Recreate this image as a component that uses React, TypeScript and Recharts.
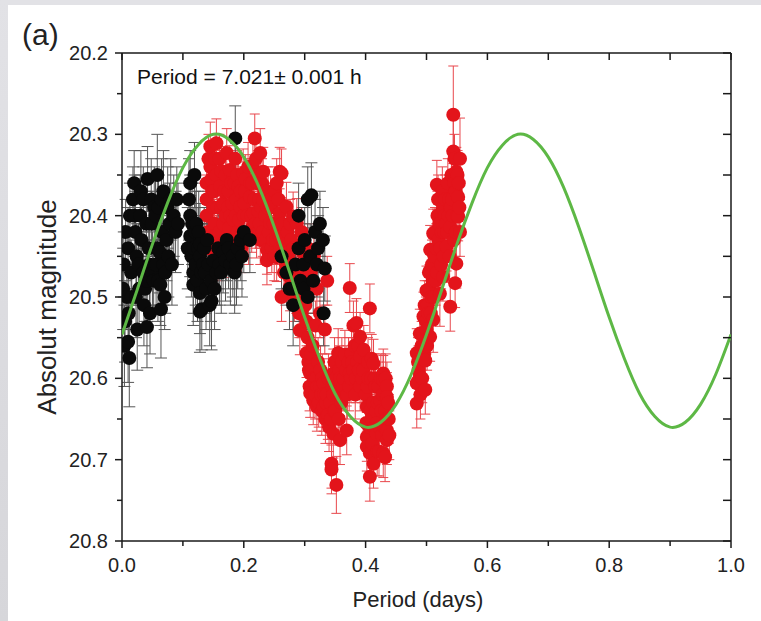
import React from 'react';
import { ComposedChart, Scatter, XAxis, YAxis, ErrorBar } from 'recharts';

type P = [number, number, number];

// [phase (days), magnitude, error]
const blackPoints: P[] = [
  [0.002, 20.49, 0.05], [0.003, 20.46, 0.04], [0.004, 20.56, 0.05], [0.005, 20.53, 0.05], [0.006, 20.42, 0.04],
  [0.008, 20.5, 0.04], [0.01, 20.44, 0.05], [0.01, 20.555, 0.05], [0.011, 20.52, 0.05], [0.012, 20.575, 0.06],
  [0.013, 20.4, 0.04], [0.015, 20.47, 0.04], [0.016, 20.5, 0.04], [0.018, 20.38, 0.04], [0.02, 20.36, 0.04],
  [0.021, 20.4, 0.05], [0.022, 20.42, 0.05], [0.023, 20.5, 0.05], [0.024, 20.45, 0.04], [0.025, 20.54, 0.05],
  [0.027, 20.46, 0.05], [0.028, 20.49, 0.05], [0.03, 20.4, 0.05], [0.031, 20.37, 0.05], [0.032, 20.43, 0.04],
  [0.035, 20.38, 0.04], [0.035, 20.47, 0.04], [0.036, 20.51, 0.05], [0.038, 20.49, 0.04], [0.04, 20.41, 0.04],
  [0.041, 20.48, 0.05], [0.041, 20.537, 0.05], [0.042, 20.355, 0.04], [0.044, 20.44, 0.05], [0.045, 20.46, 0.05],
  [0.046, 20.52, 0.05], [0.048, 20.38, 0.05], [0.049, 20.41, 0.04], [0.05, 20.47, 0.05], [0.052, 20.48, 0.04],
  [0.053, 20.39, 0.05], [0.055, 20.4, 0.05], [0.056, 20.46, 0.05], [0.058, 20.35, 0.05], [0.058, 20.44, 0.04],
  [0.059, 20.48, 0.05], [0.06, 20.39, 0.04], [0.062, 20.445, 0.05], [0.063, 20.485, 0.05], [0.064, 20.515, 0.06],
  [0.065, 20.38, 0.05], [0.066, 20.42, 0.04], [0.068, 20.37, 0.05], [0.068, 20.46, 0.05], [0.07, 20.5, 0.04],
  [0.071, 20.47, 0.05], [0.073, 20.43, 0.05], [0.075, 20.39, 0.05], [0.076, 20.45, 0.05], [0.078, 20.41, 0.05],
  [0.08, 20.38, 0.05], [0.082, 20.46, 0.05], [0.085, 20.4, 0.05], [0.088, 20.42, 0.05], [0.09, 20.38, 0.04],
  [0.092, 20.41, 0.05],
  [0.108, 20.44, 0.05], [0.11, 20.38, 0.05], [0.112, 20.36, 0.04], [0.112, 20.4, 0.05], [0.112, 20.425, 0.05],
  [0.114, 20.45, 0.05], [0.115, 20.41, 0.05], [0.117, 20.47, 0.05], [0.117, 20.485, 0.05], [0.118, 20.44, 0.05],
  [0.119, 20.35, 0.04], [0.12, 20.42, 0.05], [0.121, 20.46, 0.05], [0.122, 20.41, 0.05], [0.124, 20.48, 0.05],
  [0.125, 20.44, 0.05], [0.126, 20.42, 0.05], [0.128, 20.435, 0.05], [0.128, 20.45, 0.05], [0.128, 20.495, 0.05],
  [0.128, 20.518, 0.05], [0.13, 20.47, 0.05], [0.131, 20.515, 0.05], [0.133, 20.46, 0.05], [0.135, 20.44, 0.05],
  [0.136, 20.47, 0.05], [0.138, 20.49, 0.05], [0.14, 20.43, 0.05], [0.142, 20.46, 0.05], [0.144, 20.51, 0.05],
  [0.146, 20.48, 0.05], [0.147, 20.505, 0.06], [0.15, 20.455, 0.05], [0.152, 20.49, 0.05], [0.155, 20.47, 0.04],
  [0.158, 20.44, 0.05], [0.16, 20.46, 0.05], [0.163, 20.47, 0.05], [0.166, 20.445, 0.05], [0.17, 20.455, 0.05],
  [0.172, 20.43, 0.05], [0.175, 20.44, 0.05], [0.178, 20.46, 0.05], [0.182, 20.45, 0.05], [0.185, 20.47, 0.05],
  [0.186, 20.305, 0.04], [0.188, 20.46, 0.05], [0.19, 20.44, 0.05], [0.195, 20.43, 0.05], [0.197, 20.45, 0.05],
  [0.2, 20.42, 0.05], [0.21, 20.43, 0.04],
  [0.262, 20.45, 0.04], [0.27, 20.47, 0.04], [0.275, 20.49, 0.05], [0.281, 20.49, 0.05], [0.281, 20.51, 0.05],
  [0.285, 20.46, 0.04], [0.29, 20.4, 0.04], [0.29, 20.44, 0.04], [0.293, 20.48, 0.05], [0.298, 20.46, 0.04],
  [0.298, 20.49, 0.04], [0.3, 20.43, 0.04], [0.305, 20.38, 0.04], [0.305, 20.5, 0.04], [0.309, 20.45, 0.04],
  [0.311, 20.375, 0.04], [0.314, 20.48, 0.04], [0.317, 20.42, 0.04], [0.32, 20.46, 0.04], [0.322, 20.44, 0.04],
  [0.325, 20.41, 0.04], [0.33, 20.43, 0.04], [0.331, 20.52, 0.04], [0.333, 20.465, 0.04],
];

const redPoints: P[] = [
  [0.139, 20.36, 0.03], [0.139, 20.38, 0.03], [0.139, 20.4, 0.03], [0.141, 20.42, 0.03], [0.142, 20.33, 0.03],
  [0.143, 20.44, 0.03], [0.145, 20.315, 0.03], [0.145, 20.34, 0.03], [0.147, 20.355, 0.03], [0.148, 20.37, 0.03],
  [0.15, 20.39, 0.03], [0.151, 20.37, 0.03], [0.152, 20.41, 0.03], [0.153, 20.33, 0.03], [0.155, 20.311, 0.03],
  [0.155, 20.35, 0.03], [0.155, 20.43, 0.03], [0.157, 20.39, 0.03], [0.158, 20.45, 0.03], [0.16, 20.33, 0.03],
  [0.16, 20.42, 0.03], [0.161, 20.364, 0.03], [0.163, 20.39, 0.03], [0.163, 20.345, 0.03], [0.165, 20.435, 0.03],
  [0.166, 20.385, 0.03], [0.166, 20.41, 0.03], [0.168, 20.446, 0.03], [0.168, 20.37, 0.03], [0.17, 20.35, 0.03],
  [0.17, 20.4, 0.03], [0.172, 20.323, 0.03], [0.172, 20.426, 0.03], [0.174, 20.39, 0.03], [0.175, 20.37, 0.03],
  [0.176, 20.415, 0.03], [0.177, 20.344, 0.03], [0.178, 20.4, 0.03], [0.179, 20.36, 0.03], [0.18, 20.43, 0.03],
  [0.181, 20.385, 0.03], [0.183, 20.405, 0.03], [0.184, 20.44, 0.03], [0.185, 20.36, 0.03], [0.186, 20.33, 0.03],
  [0.187, 20.4, 0.03], [0.188, 20.38, 0.03], [0.189, 20.35, 0.03], [0.19, 20.42, 0.03], [0.191, 20.364, 0.03],
  [0.192, 20.405, 0.03], [0.194, 20.389, 0.03], [0.195, 20.37, 0.03], [0.196, 20.44, 0.03], [0.197, 20.42, 0.03],
  [0.199, 20.348, 0.03], [0.2, 20.4, 0.03], [0.201, 20.385, 0.03], [0.202, 20.37, 0.03], [0.203, 20.355, 0.03],
  [0.205, 20.422, 0.03], [0.206, 20.4, 0.03], [0.207, 20.34, 0.03], [0.208, 20.43, 0.03], [0.21, 20.377, 0.03],
  [0.211, 20.36, 0.03], [0.212, 20.4, 0.03], [0.213, 20.415, 0.03], [0.214, 20.36, 0.03], [0.215, 20.34, 0.03],
  [0.216, 20.397, 0.03], [0.217, 20.38, 0.03], [0.218, 20.305, 0.03], [0.219, 20.41, 0.03], [0.22, 20.33, 0.03],
  [0.221, 20.422, 0.03], [0.222, 20.36, 0.03], [0.223, 20.35, 0.03], [0.224, 20.395, 0.03], [0.225, 20.38, 0.03],
  [0.226, 20.41, 0.03], [0.227, 20.323, 0.03], [0.227, 20.43, 0.03], [0.229, 20.39, 0.03], [0.23, 20.36, 0.03],
  [0.231, 20.42, 0.03], [0.232, 20.346, 0.03], [0.232, 20.381, 0.03], [0.234, 20.37, 0.03], [0.235, 20.4, 0.03],
  [0.236, 20.43, 0.03], [0.238, 20.442, 0.03], [0.238, 20.455, 0.03], [0.239, 20.39, 0.03], [0.24, 20.37, 0.03],
  [0.241, 20.42, 0.03], [0.243, 20.409, 0.03], [0.244, 20.38, 0.03], [0.245, 20.39, 0.03], [0.246, 20.44, 0.03],
  [0.248, 20.43, 0.03], [0.249, 20.41, 0.03], [0.25, 20.45, 0.03], [0.251, 20.37, 0.03], [0.253, 20.43, 0.03],
  [0.254, 20.36, 0.03], [0.254, 20.451, 0.03], [0.256, 20.42, 0.03], [0.257, 20.38, 0.03], [0.259, 20.346, 0.03],
  [0.259, 20.397, 0.03], [0.259, 20.426, 0.03], [0.26, 20.44, 0.03], [0.262, 20.348, 0.03], [0.262, 20.5, 0.03],
  [0.263, 20.41, 0.03], [0.264, 20.44, 0.03], [0.266, 20.47, 0.03], [0.267, 20.43, 0.03], [0.269, 20.46, 0.03],
  [0.27, 20.389, 0.03], [0.27, 20.446, 0.03], [0.272, 20.42, 0.03], [0.273, 20.45, 0.03], [0.275, 20.475, 0.03],
  [0.276, 20.487, 0.03], [0.276, 20.41, 0.03], [0.278, 20.43, 0.03], [0.279, 20.46, 0.03], [0.281, 20.401, 0.03],
  [0.282, 20.44, 0.03], [0.283, 20.5, 0.03], [0.285, 20.46, 0.03], [0.286, 20.49, 0.03], [0.287, 20.409, 0.03],
  [0.287, 20.471, 0.03], [0.289, 20.47, 0.03], [0.29, 20.44, 0.03], [0.291, 20.52, 0.03], [0.292, 20.495, 0.03],
  [0.292, 20.541, 0.03], [0.294, 20.48, 0.03], [0.295, 20.42, 0.03], [0.295, 20.52, 0.03], [0.297, 20.5, 0.03],
  [0.298, 20.446, 0.03], [0.298, 20.512, 0.03], [0.3, 20.48, 0.03], [0.301, 20.51, 0.03], [0.303, 20.53, 0.03],
  [0.303, 20.569, 0.03], [0.304, 20.49, 0.03], [0.305, 20.44, 0.03], [0.305, 20.55, 0.03], [0.306, 20.58, 0.03],
  [0.307, 20.59, 0.03], [0.308, 20.61, 0.03], [0.309, 20.594, 0.03], [0.309, 20.618, 0.03], [0.31, 20.47, 0.03],
  [0.311, 20.57, 0.03], [0.312, 20.59, 0.03], [0.313, 20.56, 0.03], [0.314, 20.627, 0.03], [0.315, 20.45, 0.03],
  [0.316, 20.6, 0.03], [0.317, 20.62, 0.03], [0.318, 20.535, 0.03], [0.319, 20.6, 0.03], [0.32, 20.49, 0.03],
  [0.32, 20.635, 0.03], [0.321, 20.61, 0.03], [0.322, 20.58, 0.03], [0.323, 20.63, 0.03], [0.325, 20.52, 0.03],
  [0.325, 20.61, 0.03], [0.326, 20.59, 0.03], [0.327, 20.62, 0.03], [0.328, 20.64, 0.03], [0.329, 20.6, 0.03],
  [0.331, 20.606, 0.03], [0.331, 20.635, 0.03], [0.332, 20.62, 0.03], [0.333, 20.54, 0.03], [0.334, 20.65, 0.03],
  [0.335, 20.63, 0.03], [0.336, 20.62, 0.03], [0.337, 20.48, 0.03], [0.338, 20.645, 0.03], [0.339, 20.6, 0.03],
  [0.34, 20.66, 0.03], [0.342, 20.63, 0.03], [0.343, 20.65, 0.03], [0.344, 20.705, 0.03], [0.344, 20.712, 0.03],
  [0.345, 20.61, 0.03], [0.347, 20.594, 0.03], [0.347, 20.62, 0.03], [0.347, 20.668, 0.03], [0.348, 20.64, 0.03],
  [0.349, 20.58, 0.03], [0.35, 20.64, 0.03], [0.351, 20.6, 0.03], [0.352, 20.731, 0.035], [0.353, 20.62, 0.03],
  [0.355, 20.569, 0.03], [0.356, 20.65, 0.03], [0.357, 20.59, 0.03], [0.358, 20.6, 0.03], [0.358, 20.676, 0.03],
  [0.359, 20.62, 0.03], [0.36, 20.63, 0.03], [0.361, 20.58, 0.03], [0.363, 20.61, 0.03], [0.364, 20.6, 0.03],
  [0.366, 20.571, 0.03], [0.368, 20.59, 0.03], [0.369, 20.664, 0.03], [0.37, 20.62, 0.03], [0.372, 20.58, 0.03],
  [0.373, 20.61, 0.03], [0.374, 20.489, 0.03], [0.374, 20.594, 0.03], [0.376, 20.6, 0.03], [0.377, 20.569, 0.03],
  [0.378, 20.58, 0.03], [0.38, 20.535, 0.03], [0.38, 20.59, 0.03], [0.382, 20.56, 0.03], [0.383, 20.62, 0.03],
  [0.384, 20.6, 0.03], [0.385, 20.532, 0.03], [0.386, 20.58, 0.03], [0.388, 20.56, 0.03], [0.389, 20.59, 0.03],
  [0.391, 20.549, 0.03], [0.391, 20.573, 0.03], [0.391, 20.61, 0.03], [0.394, 20.6, 0.03], [0.396, 20.59, 0.03],
  [0.397, 20.565, 0.03], [0.4, 20.62, 0.03], [0.401, 20.655, 0.03], [0.402, 20.635, 0.03], [0.402, 20.672, 0.03],
  [0.402, 20.684, 0.03], [0.403, 20.61, 0.03], [0.404, 20.58, 0.03], [0.405, 20.6, 0.03], [0.406, 20.66, 0.03],
  [0.407, 20.514, 0.03], [0.407, 20.692, 0.03], [0.407, 20.721, 0.03], [0.408, 20.64, 0.03], [0.409, 20.6, 0.03],
  [0.41, 20.576, 0.03], [0.41, 20.65, 0.03], [0.411, 20.68, 0.03], [0.412, 20.63, 0.03], [0.413, 20.582, 0.03],
  [0.413, 20.705, 0.03], [0.414, 20.66, 0.03], [0.415, 20.6, 0.03], [0.416, 20.61, 0.03], [0.417, 20.64, 0.03],
  [0.418, 20.655, 0.03], [0.418, 20.668, 0.03], [0.419, 20.69, 0.03], [0.42, 20.63, 0.03], [0.421, 20.61, 0.03],
  [0.422, 20.69, 0.03], [0.423, 20.66, 0.03], [0.424, 20.627, 0.03], [0.425, 20.6, 0.03], [0.426, 20.64, 0.03],
  [0.427, 20.67, 0.03], [0.428, 20.62, 0.03], [0.429, 20.594, 0.03], [0.429, 20.602, 0.03], [0.429, 20.692, 0.03],
  [0.431, 20.66, 0.03], [0.432, 20.697, 0.03], [0.432, 20.64, 0.03], [0.433, 20.6, 0.03], [0.434, 20.65, 0.03],
  [0.435, 20.61, 0.03], [0.435, 20.623, 0.03], [0.435, 20.664, 0.03], [0.435, 20.676, 0.03], [0.437, 20.63, 0.03],
  [0.438, 20.65, 0.03], [0.439, 20.67, 0.03],
  [0.484, 20.569, 0.03], [0.484, 20.606, 0.03], [0.484, 20.631, 0.03], [0.486, 20.58, 0.03], [0.487, 20.59, 0.03],
  [0.489, 20.545, 0.03], [0.489, 20.598, 0.03], [0.49, 20.62, 0.03], [0.492, 20.56, 0.03], [0.493, 20.6, 0.03],
  [0.494, 20.545, 0.03], [0.495, 20.524, 0.03], [0.496, 20.57, 0.03], [0.497, 20.51, 0.03], [0.498, 20.578, 0.03],
  [0.498, 20.614, 0.03], [0.499, 20.53, 0.03], [0.5, 20.492, 0.03], [0.5, 20.54, 0.03], [0.501, 20.56, 0.03],
  [0.502, 20.51, 0.03], [0.503, 20.52, 0.03], [0.504, 20.47, 0.03], [0.505, 20.49, 0.03], [0.506, 20.442, 0.03],
  [0.506, 20.467, 0.03], [0.506, 20.549, 0.03], [0.507, 20.52, 0.03], [0.508, 20.5, 0.03], [0.509, 20.46, 0.03],
  [0.51, 20.48, 0.03], [0.511, 20.422, 0.03], [0.511, 20.528, 0.04], [0.512, 20.5, 0.03], [0.513, 20.45, 0.03],
  [0.514, 20.42, 0.03], [0.515, 20.48, 0.03], [0.516, 20.44, 0.03], [0.517, 20.362, 0.03], [0.517, 20.47, 0.03],
  [0.518, 20.4, 0.03], [0.519, 20.38, 0.03], [0.52, 20.43, 0.03], [0.521, 20.41, 0.03], [0.522, 20.496, 0.04],
  [0.523, 20.44, 0.03], [0.524, 20.46, 0.03], [0.525, 20.42, 0.03], [0.526, 20.37, 0.03], [0.527, 20.391, 0.03],
  [0.527, 20.475, 0.03], [0.528, 20.45, 0.03], [0.529, 20.42, 0.03], [0.53, 20.4, 0.03], [0.531, 20.38, 0.03],
  [0.532, 20.41, 0.03], [0.533, 20.438, 0.03], [0.534, 20.42, 0.03], [0.535, 20.36, 0.03], [0.536, 20.4, 0.03],
  [0.537, 20.38, 0.03], [0.538, 20.45, 0.03], [0.539, 20.414, 0.03], [0.539, 20.512, 0.03], [0.54, 20.39, 0.03],
  [0.541, 20.35, 0.03], [0.542, 20.38, 0.03], [0.543, 20.4, 0.03], [0.544, 20.276, 0.06], [0.544, 20.321, 0.04],
  [0.545, 20.43, 0.03], [0.546, 20.33, 0.03], [0.546, 20.36, 0.03], [0.547, 20.483, 0.03], [0.548, 20.37, 0.03],
  [0.548, 20.42, 0.03], [0.549, 20.346, 0.03], [0.549, 20.459, 0.03], [0.55, 20.4, 0.03], [0.551, 20.35, 0.03],
  [0.552, 20.377, 0.03], [0.552, 20.401, 0.03], [0.553, 20.36, 0.03], [0.554, 20.39, 0.03], [0.555, 20.33, 0.05],
  [0.555, 20.42, 0.03],
];

const curveX = [
  0, 0.025, 0.05, 0.075, 0.1, 0.125, 0.15, 0.175, 0.2, 0.225, 0.25, 0.275, 0.3, 0.325, 0.35, 0.375, 0.4, 0.425,
  0.45, 0.475, 0.5, 0.525, 0.55, 0.575, 0.6, 0.625, 0.65, 0.675, 0.7, 0.725, 0.75, 0.775, 0.8, 0.825, 0.85, 0.875,
  0.9, 0.925, 0.95, 0.975, 1.0,
];
const curveY = [
  20.546, 20.491, 20.435, 20.384, 20.341, 20.313, 20.3, 20.306, 20.328, 20.365, 20.414, 20.469, 20.525, 20.576,
  20.619, 20.647, 20.66, 20.654, 20.632, 20.595, 20.546, 20.491, 20.435, 20.384, 20.341, 20.313, 20.3, 20.306,
  20.328, 20.365, 20.414, 20.469, 20.525, 20.576, 20.619, 20.647, 20.66, 20.654, 20.632, 20.595, 20.546,
];

const xTicks = [0, 0.1, 0.2, 0.3, 0.4, 0.5, 0.6, 0.7, 0.8, 0.9, 1.0];
const xLabels = ['0.0', '', '0.2', '', '0.4', '', '0.6', '', '0.8', '', '1.0'];
const yTicks = [20.2, 20.25, 20.3, 20.35, 20.4, 20.45, 20.5, 20.55, 20.6, 20.65, 20.7, 20.75, 20.8];
const yLabels = ['20.2', '', '20.3', '', '20.4', '', '20.5', '', '20.6', '', '20.7', '', '20.8'];

const xTitle = 'Period (days)';
const yTitle = 'Absolut magnitude';
const panelTag = '(a)';
const note = 'Period = 7.021\u00b1 0.001 h';

const FONT = '"Liberation Sans", Arial, sans-serif';
const AXIS = '#1a1a1a';

const rows = (pts: P[]) => pts.map(([x, y, e]) => ({ x, y, e }));
const blackData = rows(blackPoints);
const redData = rows(redPoints);
const curveData = curveX.map((x, i) => ({ x, y: curveY[i] }));

const BottomTick = (props: any) => {
  const { x, y, index } = props;
  const label = xLabels[index];
  const major = label !== '';
  return (
    <g>
      <line x1={x} x2={x} y1={y} y2={y + (major ? 7 : 5)} stroke={AXIS} strokeWidth={1.5} />
      {major && (
        <text x={x} y={y + 31} textAnchor="middle" fontSize={20} fontFamily={FONT} fill="#222">
          {label}
        </text>
      )}
    </g>
  );
};

const TopTick = (props: any) => {
  const { x, y } = props;
  return <line x1={x} x2={x} y1={y} y2={y + 7} stroke={AXIS} strokeWidth={1.5} />;
};

const LeftTick = (props: any) => {
  const { x, y, index } = props;
  const label = yLabels[index];
  const major = label !== '';
  return (
    <g>
      <line x1={x} x2={x - (major ? 7 : 5)} y1={y} y2={y} stroke={AXIS} strokeWidth={1.5} />
      {major && (
        <text x={x - 14} y={y + 7} textAnchor="end" fontSize={20} fontFamily={FONT} fill="#222">
          {label}
        </text>
      )}
    </g>
  );
};

const RightTick = (props: any) => {
  const { x, y } = props;
  return <line x1={x} x2={x - 8} y1={y} y2={y} stroke={AXIS} strokeWidth={1.5} />;
};

const redDot = (p: any) => <circle cx={p.cx} cy={p.cy} r={7} fill="#e3141b" />;
const blackDot = (p: any) => <circle cx={p.cx} cy={p.cy} r={7} fill="#0a0a0a" />;
const noDot = () => <g />;

const leftLabel = () => (
  <g>
    <text
      x={47}
      y={307}
      transform="rotate(-90, 47, 307)"
      textAnchor="middle"
      dominantBaseline="central"
      fontSize={26}
      fontFamily={FONT}
      fill="#222"
    >
      {yTitle}
    </text>
    <text x={22} y={45} fontSize={30} fontFamily={FONT} fill="#222">
      {panelTag}
    </text>
    <text x={137} y={84} fontSize={21} fontFamily={FONT} fill="#111">
      {note}
    </text>
  </g>
);

export default function App() {
  return (
    <div style={{ position: 'absolute', left: 0, top: 0, width: 761, height: 621, background: '#ffffff', overflow: 'hidden' }}>
      <div style={{ position: 'absolute', left: 0, top: 0, width: 761, height: 5, background: '#e2e2e6' }} />
      <div style={{ position: 'absolute', left: 0, top: 0, width: 8, height: 621, background: 'linear-gradient(#e2e2e6, #d6d6da)' }} />
      <div style={{ position: 'absolute', left: 0, top: 0 }}>
        <ComposedChart width={761} height={621} margin={{ top: 52, right: 29, bottom: 0, left: 0 }}>
          <XAxis
            xAxisId="bottom"
            dataKey="x"
            type="number"
            domain={[0, 1]}
            ticks={xTicks}
            interval={0}
            height={80}
            tickSize={0}
            tickMargin={0}
            tickLine={false}
            axisLine={{ stroke: AXIS, strokeWidth: 1.5 }}
            tick={BottomTick}
            allowDataOverflow
            label={{
              value: xTitle,
              content: () => (
                <text x={418} y={607} textAnchor="middle" fontSize={22} fontFamily={FONT} fill="#222">
                  {xTitle}
                </text>
              ),
            }}
          />
          <XAxis
            xAxisId="top"
            orientation="top"
            dataKey="x"
            type="number"
            domain={[0, 1]}
            ticks={xTicks}
            interval={0}
            height={1}
            tickSize={0}
            tickMargin={0}
            tickLine={false}
            axisLine={{ stroke: AXIS, strokeWidth: 1.5 }}
            tick={TopTick}
            allowDataOverflow
          />
          <YAxis
            yAxisId="left"
            dataKey="y"
            type="number"
            domain={[20.2, 20.8]}
            reversed
            ticks={yTicks}
            interval={0}
            width={122}
            tickSize={0}
            tickMargin={0}
            tickLine={false}
            axisLine={{ stroke: AXIS, strokeWidth: 1.5 }}
            tick={LeftTick}
            allowDataOverflow
            label={{ value: yTitle, content: leftLabel }}
          />
          <YAxis
            yAxisId="right"
            orientation="right"
            dataKey="y"
            type="number"
            domain={[20.2, 20.8]}
            reversed
            ticks={yTicks}
            interval={0}
            width={1}
            tickSize={0}
            tickMargin={0}
            tickLine={false}
            axisLine={{ stroke: AXIS, strokeWidth: 1.5 }}
            tick={RightTick}
            allowDataOverflow
          />
          <Scatter
            data={redData}
            xAxisId="bottom"
            yAxisId="left"
            dataKey="y"
            shape={redDot}
            isAnimationActive={false}
          >
            <ErrorBar dataKey="e" direction="y" width={5} stroke="#e8474c" strokeWidth={1} />
          </Scatter>
          <Scatter
            data={blackData}
            xAxisId="bottom"
            yAxisId="left"
            dataKey="y"
            shape={blackDot}
            isAnimationActive={false}
          >
            <ErrorBar dataKey="e" direction="y" width={6} stroke="#555555" strokeWidth={1} />
          </Scatter>
          <Scatter
            data={curveData}
            xAxisId="top"
            yAxisId="right"
            dataKey="y"
            shape={noDot}
            line={{ stroke: '#5db845', strokeWidth: 3, fill: 'none' }}
            lineType="joint"
            lineJointType="natural"
            fill="none"
            isAnimationActive={false}
          />
        </ComposedChart>
      </div>
    </div>
  );
}
